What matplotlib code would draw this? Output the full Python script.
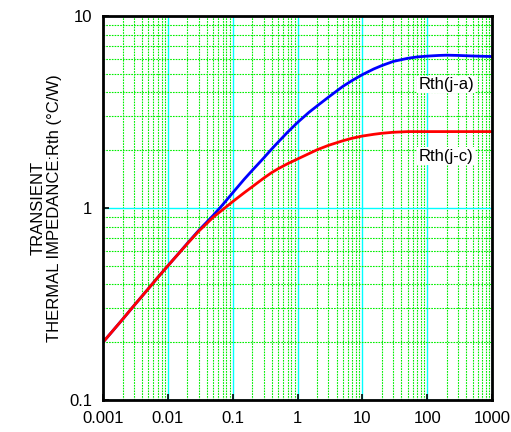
import matplotlib
matplotlib.use("Agg")
import numpy as np
from matplotlib import pyplot as plt
from matplotlib.ticker import LogLocator, NullFormatter, FixedLocator

plt.rcParams['font.family'] = ['Liberation Sans', 'DejaVu Sans']

# time (s) / transient thermal impedance (degC/W)
t_ja = [0.001, 0.002, 0.003, 0.005, 0.007, 0.01, 0.015, 0.02, 0.03, 0.05, 0.07,
        0.1, 0.15, 0.2, 0.3, 0.4, 0.5, 0.7, 1, 1.5, 2, 3, 5, 7, 10, 15, 20, 30,
        50, 70, 100, 150, 200, 300, 500, 700, 1000]
rth_ja = [0.2, 0.263, 0.31, 0.38, 0.435, 0.5, 0.585, 0.655, 0.765, 0.915, 1.04,
          1.2, 1.41, 1.57, 1.82, 2.03, 2.2, 2.48, 2.79, 3.15, 3.4, 3.78, 4.3,
          4.62, 4.95, 5.3, 5.52, 5.8, 6.02, 6.12, 6.18, 6.23, 6.25, 6.23, 6.19,
          6.17, 6.15]

t_jc = [0.001, 0.002, 0.003, 0.005, 0.007, 0.01, 0.015, 0.02, 0.03, 0.05, 0.07,
        0.1, 0.15, 0.2, 0.3, 0.4, 0.5, 0.7, 1, 1.5, 2, 3, 5, 7, 10, 15, 20, 30,
        50, 100, 200, 1000]
rth_jc = [0.2, 0.263, 0.31, 0.38, 0.435, 0.5, 0.584, 0.652, 0.758, 0.895, 0.98,
          1.08, 1.2, 1.29, 1.43, 1.53, 1.6, 1.7, 1.8, 1.92, 2.01, 2.12,
          2.24, 2.31, 2.37, 2.42, 2.45, 2.48, 2.5, 2.5, 2.5, 2.5]

x_ticks = [0.001, 0.01, 0.1, 1, 10, 100, 1000]
x_labels = ["0.001", "0.01", "0.1", "1", "10", "100", "1000"]
y_ticks = [0.1, 1, 10]
y_labels = ["0.1", "1", "10"]

fig = plt.figure(figsize=(5.11, 4.32), dpi=100)
ax = fig.add_axes([0.2016, 0.074, 0.7614, 0.889])
ax.set_xscale("log")
ax.set_yscale("log")
ax.set_xlim(0.001, 1000)
ax.set_ylim(0.1, 10)

# grid: green dotted minor, cyan decades
ax.xaxis.set_minor_locator(LogLocator(base=10, subs=np.arange(2, 10), numticks=20))
ax.yaxis.set_minor_locator(LogLocator(base=10, subs=np.arange(2, 10), numticks=20))
ax.xaxis.set_minor_formatter(NullFormatter())
ax.yaxis.set_minor_formatter(NullFormatter())
ax.grid(True, which="minor", color="#00ee00", linestyle=(0, (1.5, 1)), linewidth=0.8)
ax.grid(True, which="major", color="#00ffff", linestyle="-", linewidth=1.0)
ax.set_axisbelow(True)

ax.xaxis.set_major_locator(FixedLocator(x_ticks))
ax.yaxis.set_major_locator(FixedLocator(y_ticks))
ax.set_xticklabels(x_labels)
ax.set_yticklabels(y_labels)
ax.tick_params(which="major", direction="in", length=4, width=1.2, labelsize=12,
               pad=8)
ax.tick_params(which="minor", length=0)

for s in ax.spines.values():
    s.set_linewidth(2)

ax.plot(t_ja, rth_ja, color="#0000ff", linewidth=2)
ax.plot(t_jc, rth_jc, color="#ff0000", linewidth=2)

box = dict(facecolor="white", edgecolor="none", pad=1)
ax.text(195, 4.39, "Rth(j-a)", fontsize=12, ha="center", va="center", bbox=box)
ax.text(195, 1.86, "Rth(j-c)", fontsize=12, ha="center", va="center", bbox=box)

ax.set_ylabel("TRANSIENT\nTHERMAL IMPEDANCE:Rth (°C/W)", fontsize=12,
              linespacing=1.15, labelpad=5)

fig.savefig("out.png", dpi=100)
